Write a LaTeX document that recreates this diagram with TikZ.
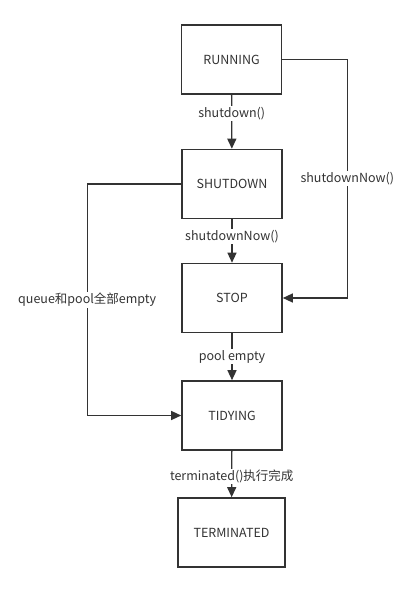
\documentclass[tikz,border=0pt]{standalone}
\usepackage{fontspec}
\setmainfont{Noto Sans CJK SC}
\usetikzlibrary{positioning,arrows.meta}
\definecolor{ink}{HTML}{333333}
\tikzset{
state/.style={
  draw=ink,
  line width=1.6pt,
  minimum width=100pt,
  minimum height=69pt,
  inner sep=0pt,
  text=ink,
  font=\fontsize{12.5}{14}\selectfont
  },
lbl/.style={
  fill=white,
  inner sep=1pt,
  text=ink,
  font=\fontsize{12.5}{14}\selectfont
  },
link/.style={
  draw=ink,
  line width=1.3pt,
  -{Triangle[length=10pt,width=9pt]}
  }
}
\begin{document}
\begin{tikzpicture}[x=1pt,y=-1pt]
\useasboundingbox (0,0) rectangle (411,593);

\node[state] (run) at (231.5,59.5) {RUNNING};
\node[state] (shd) at (232,184) {SHUTDOWN};
\node[state] (stop) at (232,298) {STOP};
\node[state] (tidy) at (232,415.5) {TIDYING};
\node[state,minimum width=107pt] (term) at (231.5,532.5) {TERMINATED};

\draw[link] (run) -- node[lbl,pos=0.35] {shutdown()} (shd);
\draw[link] (shd) -- node[lbl,pos=0.4] {shutdownNow()} (stop);
\draw[link] (stop) -- node[lbl,pos=0.5] {pool empty} (tidy);
\draw[link] (tidy) -- node[lbl,pos=0.55] {terminated()执行完成} (term);

\draw[link] (run.east) -- ++(65,0) |- node[lbl,pos=0.25] {shutdownNow()} (stop.east);
\draw[link] (shd.west) -- ++(-94,0) |- node[lbl,pos=0.25] {queue和pool全部empty} (tidy.west);
\end{tikzpicture}
\end{document}
